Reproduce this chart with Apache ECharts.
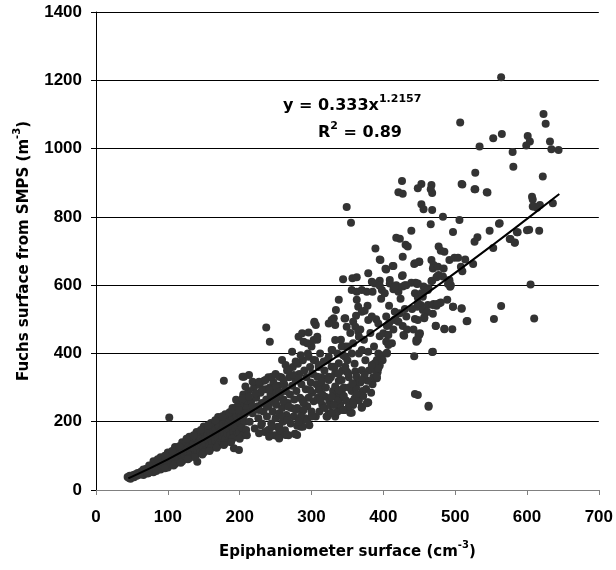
<!DOCTYPE html>
<html>
<head>
<meta charset="utf-8">
<script src="https://cdn.jsdelivr.net/npm/echarts@6/dist/echarts.min.js"></script>
<style>
html,body{margin:0;padding:0;background:#fff;}
#chart{width:616px;height:570px;}
</style>
</head>
<body>
<div id="chart"></div>
<script>
// Scatter points [Epiphaniometer surface, Fuchs surface]
const bandLow = [
[44,38],[46,35],[47,42],[48,33],[50,40],[52,44],[53,37],[55,46],[57,42],[58,50],[60,45],[62,48],[63,54],[65,50],[66,44],[68,56],[70,52],[70,62],[72,58],[73,50],[75,64],[76,56],[78,60],[78,70],[80,66],[81,58],[82,74],[84,68],[85,62],[86,78],[88,72],[88,64],[90,84],[90,76],[92,70],[93,80],[94,90],[95,74],[96,86],[97,68],[98,95],[99,80],[100,88],[100,74],[102,100],[103,84],[104,92],[105,78],[106,106],[107,90],[108,98],[109,82],[110,112],[110,96],[112,88],[113,104],[114,118],[115,94],[116,82],[117,110],[118,124],[119,100],[120,90],[121,116],[122,130],[123,106],[124,96],[125,122],[126,140],[127,112],[128,100],[129,128],[130,136],[131,118],[132,106],[133,146],[134,126],[135,112],[136,140],[137,120],[138,104],[139,150],[140,132],[141,118],[142,158],[143,138],[144,124],[145,110],[146,150],[147,132],[148,164],[149,142],[150,124],[151,170],[152,152],[153,136],[154,118],[155,160],[156,178],[157,144],[158,130],[159,168],[160,150],[161,186],[162,138],[163,172],[164,156],[165,194],[166,144],[167,178],[168,162],[169,200],[170,150],[171,186],[172,166],[173,140],[174,204],[175,176],[176,158],[177,192],[178,170],[180,150],[180,206],[182,184],[183,166],[184,196],[185,210],[186,176],[187,160],[188,200],[189,186],[190,214],[191,170],[192,122],[193,196],[194,180],[195,220],[196,162],[197,204],[198,186],[199,117],[200,226],[200,170],[201,196],[202,212],[203,182],[204,236],[205,160],[206,220],[207,200],[208,250],[209,176],
[80,84],[90,96],[100,110],[110,126],[120,140],[130,156],[140,170],[150,186],[160,196],[170,214],[180,222],[190,240],[200,250],[210,262],
[80,52],[90,60],[100,66],[110,76],[120,84],[130,94],[141,83],[150,110],[160,122],[170,130],[180,138],[190,150],[200,150],[210,160],
[66,60],[74,72],[86,90],[96,100],[106,114],[116,128],[126,150],[136,160],[146,176],[156,190],[166,204],[176,216],[186,228],[196,244],
[72,48],[84,56],[96,64],[108,72],[118,80],[128,90],[138,96],[148,104],[158,114],[168,124],[178,132],[188,140],
[102,212],[178,320]
];
const cloudMid = [
[205,280],[210,240],[212,290],[214,200],[216,260],[218,225],[220,300],[221,180],[223,270],[225,245],[226,210],[228,310],[229,285],[230,190],[231,255],[233,230],[234,320],[235,170],[236,295],[237,265],[238,215],[240,245],[240,330],[241,176],[242,300],[243,280],[244,195],[245,260],[246,230],[247,315],[248,160],[249,290],[250,210],[250,340],[251,250],[252,270],[253,185],[254,305],[255,225],[256,160],[257,285],[258,330],[259,240],[260,200],[261,265],[262,310],[263,175],[264,290],[265,220],[266,350],[267,255],[268,160],[269,330],[270,280],[271,195],[272,240],[273,305],[274,360],[275,215],[276,265],[277,165],[278,320],[279,290],[280,240],[281,370],[282,200],[283,340],[284,270],[285,185],[286,310],[287,230],[288,380],[289,255],[290,350],[291,210],[292,295],[293,330],[294,245],[295,400],[296,270],[297,190],[298,360],[299,315],[300,230],[300,420],[301,285],[302,340],[303,260],[304,490],[305,380],[306,215],[307,310],[308,440],[309,270],[310,360],[311,230],[312,400],[313,300],[314,330],[315,250],
[252,158],[240,176],[227,166],[255,185],[264,161],[277,164],[280,188],[288,185],[287,205],[266,161],[280,161],[241,156],[255,151],
[282,449],[287,459],[296,461],[289,434],[294,430],[303,439],[308,449],[304,493],[306,483],[331,503],[333,483],[347,503],[349,478],[273,405],[285,395],[278,376],[259,381],[264,366],[268,351],[255,332],[261,322],[275,337],[282,327],[296,390],[303,381],[310,366],[317,376],[324,390],[328,361],[338,371],[347,390],[301,342],[308,332],[314,317],[324,332],[333,342],[342,322],[349,347],[298,293],[310,293],[319,273],[333,283],[342,288],[287,264],[289,234],[285,215],[282,200],[294,205],[324,225],[333,215],[347,234],[204,332],[213,337],[208,303],[218,317],[227,317],[236,322],[245,332],[250,303],[195,264],[204,269],[213,273],[222,283],[231,293],[241,293],[255,288],[264,293],[190,234],[199,234],[208,225],[218,244],[227,234],[238,244],[250,254],[261,259],[268,244],[278,234],[231,195],[245,185],[255,176],[259,215],[266,205],[237,476],[242,434],[206,332],
[363,280],[357,259],[358,249],[370,242],[378,257],[322,215],[328,226],[336,229],[344,234],[354,226],[300,215],[289,256],
[315,280],[318,350],[320,300],[322,380],[325,260],[327,330],[329,410],[330,290],[332,360],[335,250],[336,400],[338,320],[340,270],[341,440],[343,350],[345,300],[347,420],[350,380],[352,330],[354,460],[356,290],[358,430],[360,370],[362,510],[364,320],[366,400],[368,470],[371,290],[373,440],[375,380],[378,540],[380,350],[382,460],[385,310],[387,420],[390,500],[392,345],[395,450],[397,560],[399,380],[405,480],[408,540],[412,430],[414,470],[417,500],[424,560],[427,480],[430,530],[433,470],[440,530],[442,470],
[301,217],[321,215],[328,225],[342,236],[356,226],[370,241],[379,256],[391,327],[389,351],[405,402],[407,430],[406,455],[428,454],[446,434],[449,454],
[340,250],[348,262],[352,245],[360,268],[366,262],[372,275],[376,296],[383,285],[386,330],[395,365],[398,395],[318,240],[326,248],[312,262],[336,262],[345,275],[352,300],[362,300],[368,315],[378,320]
];
const cloudHigh = [
[389,707],[396,674],[414,656],[404,646],[431,718],[434,713],[427,683],[444,664],[450,668],[426,627],[439,607],[445,607],[379,635],[344,617],[357,620],[363,623],[384,610],[395,613],[409,615],[418,600],[427,596],[432,600],[447,603],[456,596],[467,612],[474,623],[356,586],[363,581],[370,586],[377,581],[385,581],[398,586],[402,576],[414,588],[421,581],[444,576],[448,564],[452,542],[447,537],[462,542],[470,545],[363,557],[365,537],[370,522],[374,525],[338,557],[334,527],[328,498],[324,488],[346,502],[358,493],[361,478],[365,464],[366,449],[379,498],[384,508],[393,488],[404,508],[416,522],[423,518],[432,508],[408,488],[415,498],[421,493],[444,501],[457,503],[469,516],[400,459],[407,454],[404,434],[407,425],[405,400],[429,452],[446,439],[450,454],[443,392],[469,405],[333,439],[342,420],[328,410],[351,420],[344,395],[356,400],[370,410],[379,405],[393,400],[391,381],[388,371],[393,356],[391,332],[331,361],[338,342],[347,361],[351,342],[361,347],[370,351],[363,332],[374,337],[357,313],[370,322],[384,366],[324,322],[333,303],[328,273],[338,293],[331,249],[344,234],[358,254],[370,244],[377,254],[363,281],[444,281],[463,247],
[453,896],[467,893],[466,881],[468,870],[448,884],[453,837],[456,822],[468,820],[466,778],[483,800],[506,791],[497,756],[548,759],[561,780],[586,755],[600,761],[527,727],[531,740],[553,709],[577,735],[583,725],[477,713],[480,701],[485,698],[450,669],[467,674],[470,659],[469,649],[476,654],[484,649],[492,674],[499,680],[504,680],[514,675],[508,654],[510,641],[525,662],[477,630],[483,625],[492,610],[493,595],[468,613],[463,591],[462,586],[448,605],[453,576],[455,566],[448,547],[469,542],[474,540],[478,547],[489,557],[497,537],[509,531],[455,527],[461,521],[457,506],[448,498],[451,459],[448,439],[473,481],[485,472],[516,494],[468,404],[448,278],[463,244],
[426,905],[421,872],[427,868],[349,829],[355,783],[439,759],[418,739],[423,736],[395,675],[403,648],[413,656],[443,662],[388,605],[395,598],[409,605],[416,596],[430,600],[427,629],[475,625],[492,615],[494,600],
[496,471],[509,532],[517,495],[497,537],[485,471],[473,480],[480,549],[475,545],[490,603]
];
const upperRight = [
[564,1209],[565,1043],[580,990],[581,947],[601,1037],[604,1021],[599,1009],[623,1101],[626,1073],[632,1021],[634,998],[644,996],[622,918],[607,859],[608,851],[608,830],[614,827],[636,840],[562,781],[576,735],[583,724],[587,755],[603,762],[617,759],[605,602],[564,539],[610,502],[554,501],[507,1076],[534,1006],[553,1030],[528,929],[510,895],[528,881],[545,871],[610,830],[618,835],[509,896],[527,881],[544,872]
];
// Fitted power-law trend line y = 0.333x^1.2157
const fitX = [45, 100, 150, 200, 250, 300, 350, 400, 450, 500, 550, 600, 645];
const fitY = [34, 90, 147, 209, 274, 342, 412, 485, 560, 636, 714, 794, 867];

const points = bandLow.concat(cloudMid, cloudHigh, upperRight);
const fitData = fitX.map((x, i) => [x, fitY[i]]);

const chart = echarts.init(document.getElementById('chart'), null, {renderer: 'canvas'});
const FONT = '"Liberation Sans", Arial, sans-serif';
const WIDE = '"DejaVu Sans", sans-serif';
const richTxt = (size, supSize, colorKey) => ({
  a: {fontFamily: WIDE, fontWeight: 'bold', fontSize: size, [colorKey]: '#000', lineHeight: 20, verticalAlign: 'bottom'},
  s: {fontFamily: WIDE, fontWeight: 'bold', fontSize: supSize, [colorKey]: '#000', lineHeight: 20, verticalAlign: 'top'}
});
chart.setOption({
  animation: false,
  backgroundColor: '#ffffff',
  grid: {left: 96, right: 14, top: 12, bottom: 80, containLabel: false},
  xAxis: {
    type: 'value', min: 0, max: 700, interval: 100,
    axisLine: {show: true, onZero: false, lineStyle: {color: '#808080', width: 1}},
    axisTick: {show: true, inside: false, length: 5, lineStyle: {color: '#808080'}},
    splitLine: {show: false},
    axisLabel: {fontFamily: FONT, fontWeight: 'bold', fontSize: 17, color: '#000', margin: 19,
      formatter: v => String(v)},
    name: '{a|Epiphaniometer surface (cm}{s|-3}{a|)}',
    nameLocation: 'middle', nameGap: 50,
    nameTextStyle: {rich: richTxt(15, 10, 'color')}
  },
  yAxis: {
    type: 'value', min: 0, max: 1400, interval: 200,
    axisLine: {show: true, lineStyle: {color: '#000', width: 1}},
    axisTick: {show: true, inside: false, length: 5, lineStyle: {color: '#000'}},
    splitLine: {show: true, lineStyle: {color: '#000', width: 1}},
    axisLabel: {fontFamily: FONT, fontWeight: 'bold', fontSize: 17, color: '#000', margin: 14,
      formatter: v => String(v)},
    name: '{a|Fuchs surface from SMPS (m}{s|-3}{a|)}',
    nameLocation: 'middle', nameGap: 64, nameRotate: 90,
    nameTextStyle: {rich: richTxt(15, 10, 'color')}
  },
  graphic: [
    {
      type: 'text', left: 283, top: 94, z: 100,
      style: {text: '{a|y = 0.333x}{s|1.2157}', rich: richTxt(16, 11, 'fill')}
    },
    {
      type: 'text', left: 318, top: 121, z: 100,
      style: {text: '{a|R}{s|2}{a| = 0.89}', rich: richTxt(16, 11, 'fill')}
    }
  ],
  series: [
    {
      type: 'scatter', data: points, symbol: 'circle', symbolSize: 8,
      itemStyle: {color: '#333333', opacity: 1}, z: 2
    },
    {
      type: 'line', data: fitData, smooth: true, showSymbol: false, symbol: 'none',
      lineStyle: {color: '#000', width: 2}, z: 3
    }
  ]
});
</script>
</body>
</html>
